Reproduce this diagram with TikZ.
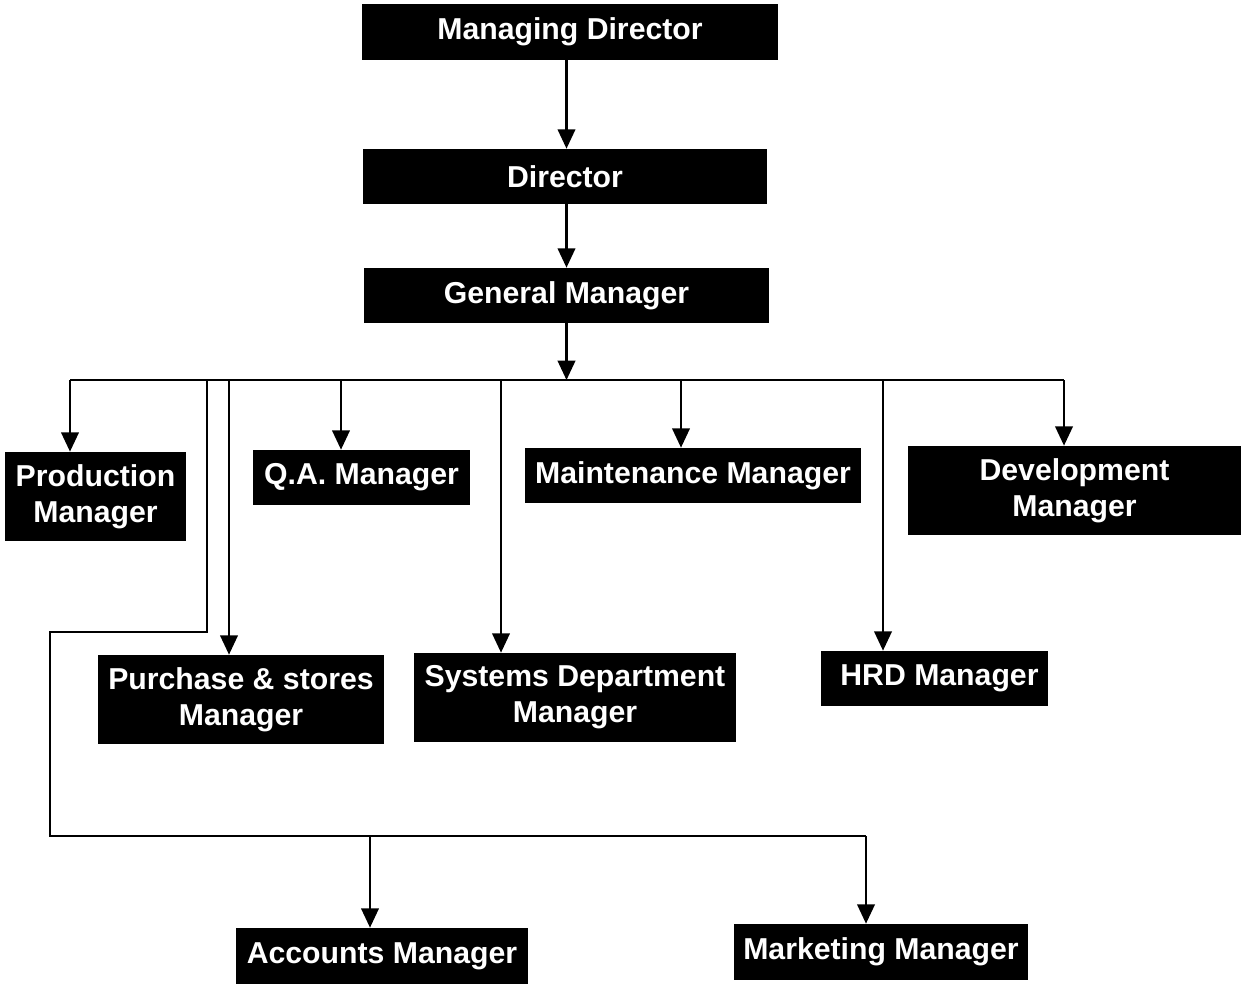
\documentclass[tikz,border=0pt]{standalone}
\usepackage{fontspec}
\setmainfont{Liberation Sans}
\usetikzlibrary{arrows.meta}
\tikzset{
  box/.style={rectangle, fill=black, text=white, inner sep=0pt, align=center,
    font=\fontsize{17.2}{20.4}\selectfont\bfseries},
  arr/.style={line width=1.2pt, -{Triangle[width=10pt,length=11pt]}},
  ln/.style={line width=1.2pt},
}
\begin{document}
\begin{tikzpicture}
\useasboundingbox (0,0) rectangle (24.94,-19.68);
% top chain
\node[box, minimum width=8.32cm, minimum height=1.12cm] (md)  at (11.40,-0.64) {Managing Director};
\node[box, minimum width=8.08cm, minimum height=1.10cm] (dir) at (11.30,-3.53) {Director};
\node[box, minimum width=8.10cm, minimum height=1.10cm] (gm)  at (11.33,-5.91) {General Manager};
% second row
\node[box, minimum width=3.62cm, minimum height=1.78cm] (prod) at (1.91,-9.93) {Production\\Manager};
\node[box, minimum width=4.34cm, minimum height=1.10cm] (qa)   at (7.23,-9.55) {Q.A. Manager};
\node[box, minimum width=6.72cm, minimum height=1.10cm] (mnt)  at (13.86,-9.51) {Maintenance Manager};
\node[box, minimum width=6.66cm, minimum height=1.78cm] (dev)  at (21.49,-9.81) {Development\\Manager};
% third row
\node[box, minimum width=5.72cm, minimum height=1.78cm] (pur)  at (4.82,-13.99) {Purchase \& stores\\Manager};
\node[box, minimum width=6.44cm, minimum height=1.78cm] (sys)  at (11.50,-13.95) {Systems Department\\Manager};
\node[box, minimum width=4.54cm, minimum height=1.10cm] (hrd)  at (18.69,-13.57) {\hspace*{0.2cm}HRD Manager};
% bottom row
\node[box, minimum width=5.84cm, minimum height=1.12cm] (acc)  at (7.64,-19.12) {Accounts Manager};
\node[box, minimum width=5.88cm, minimum height=1.12cm] (mkt)  at (17.62,-19.04) {Marketing Manager};

% bus coordinates
\coordinate (bus) at (11.33,-7.60);
\coordinate (bl) at (1.40,-7.60);
\coordinate (br) at (21.28,-7.60);
\coordinate (tqa) at (6.82,-7.60);
\coordinate (tmnt) at (13.62,-7.60);
\coordinate (tsys) at (10.02,-7.60);
\coordinate (thrd) at (17.66,-7.60);
\coordinate (tpur) at (4.58,-7.60);
\coordinate (tdet) at (4.14,-7.60);
\coordinate (d1) at (4.14,-12.64);
\coordinate (d2) at (1.00,-12.64);
\coordinate (d3) at (1.00,-16.72);
\coordinate (tacc) at (7.40,-16.72);
\coordinate (tmkt) at (17.32,-16.72);

% connectors
\draw[arr] (md.south -| gm) -- (dir.north -| gm);
\draw[arr] (dir.south -| gm) -- (gm.north);
\draw[arr] (gm.south) -- (bus);
\draw[ln] (bl) -- (br);
\draw[arr] (bl) -- (bl |- prod.north);
\draw[arr] (tqa) -- (tqa |- qa.north);
\draw[arr] (tmnt) -- (tmnt |- mnt.north);
\draw[arr] (br) -- (br |- dev.north);
\draw[arr] (tsys) -- (tsys |- sys.north);
\draw[arr] (thrd) -- (thrd |- hrd.north);
\draw[arr] (tpur) -- (tpur |- pur.north);
\draw[ln] (tdet) -- (d1) -- (d2) -- (d3) -- (tmkt);
\draw[arr] (tacc) -- (tacc |- acc.north);
\draw[arr] (tmkt) -- (tmkt |- mkt.north);
\end{tikzpicture}
\end{document}
